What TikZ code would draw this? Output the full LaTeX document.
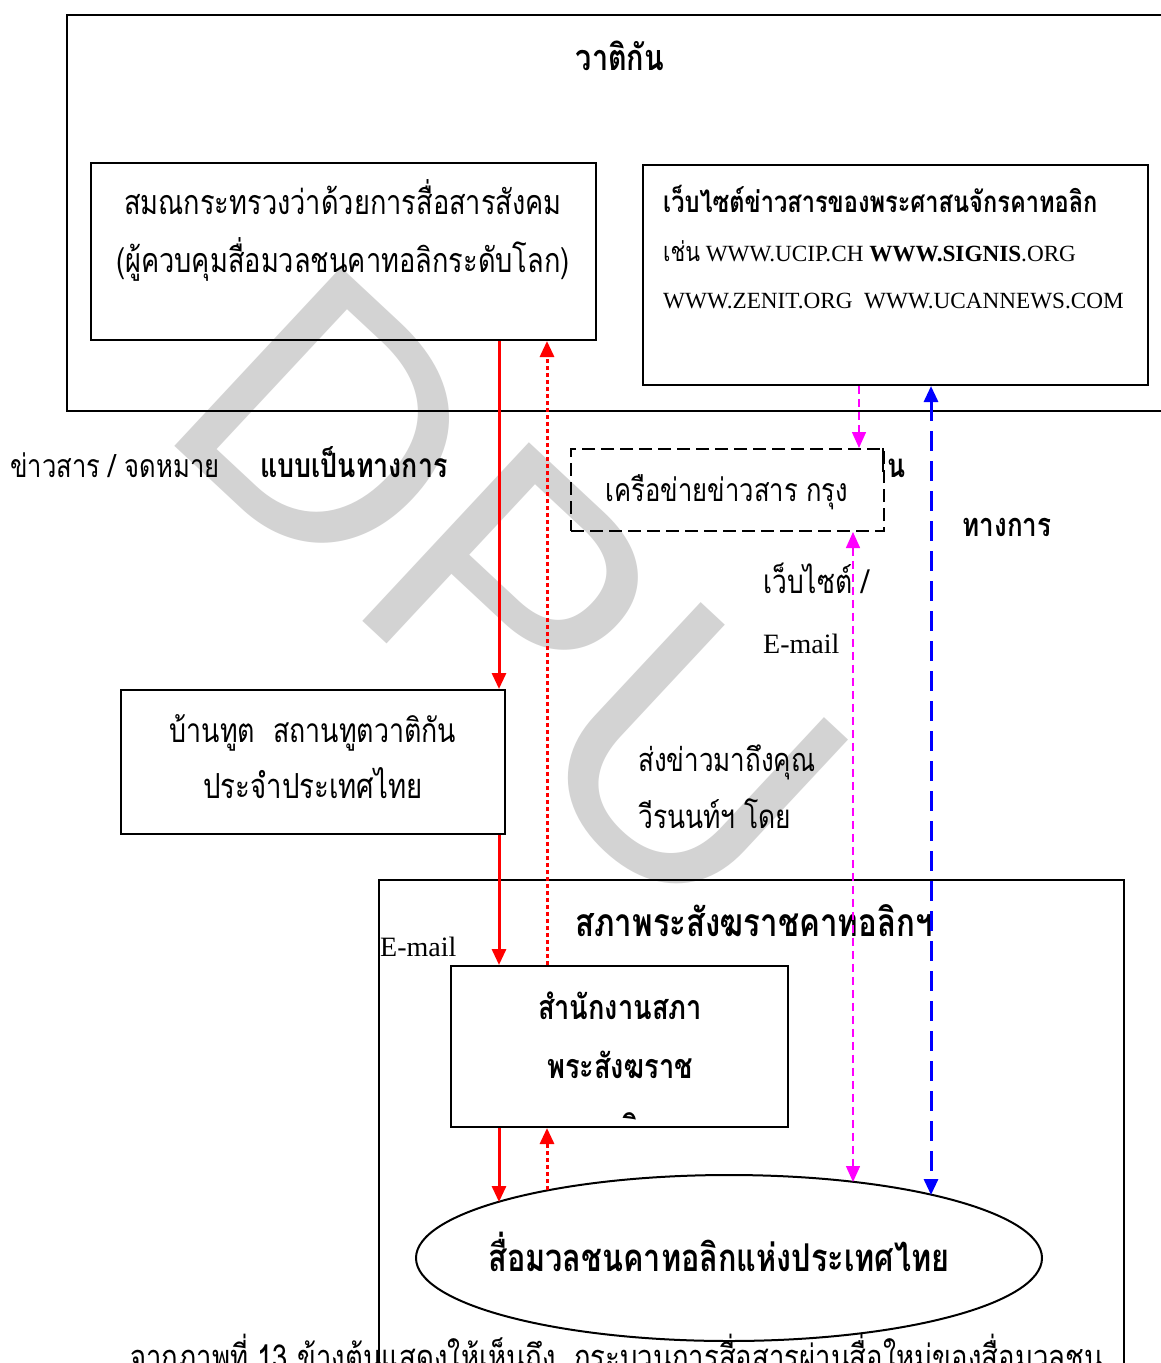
\documentclass[tikz,border=0pt]{standalone}
\usepackage{fontspec}
\setmainfont{Liberation Serif}
\newfontfamily\thai[Script=Thai,FakeStretch=0.8]{Loma}
\newfontfamily\wmfont{Liberation Sans}
\usetikzlibrary{arrows.meta,shapes.geometric}
\definecolor{wmgray}{RGB}{211,211,211}
\definecolor{myred}{RGB}{255,0,0}
\definecolor{mymag}{RGB}{255,0,255}
\definecolor{myblue}{RGB}{0,0,255}
\tikzset{
  box/.style={draw=black, line width=2pt, inner sep=0pt, rectangle},
  th/.style={font=\thai\fontsize{#1}{36}\selectfont, inner sep=0pt},
  th/.default=33,
  thb/.style={font=\thai\bfseries\fontsize{#1}{36}\selectfont, inner sep=0pt},
  thb/.default=33,
  lat/.style={font=\fontsize{23.2}{28}\selectfont, inner sep=0pt},
  latbig/.style={font=\fontsize{28}{32}\selectfont, inner sep=0pt},
  tip/.style={-{Triangle[width=14pt,length=16pt]}},
  redsolid/.style={draw=myred, line width=3pt, tip},
  reddot/.style={draw=myred, line width=3pt, dash pattern=on 4pt off 3pt, tip},
  magline/.style={draw=mymag, line width=1.5pt, dash pattern=on 8pt off 5pt},
  blueline/.style={draw=myblue, line width=3pt, dash pattern=on 20pt off 10pt},
}
\begin{document}
\begin{tikzpicture}[x=1pt,y=-1pt]
\useasboundingbox (0,0) rectangle (1161,1363);
\fill[white] (0,0) rectangle (1161,1363);
% watermark
\node[rotate=-43, text=wmgray, font=\wmfont\fontsize{355}{355}\selectfont, inner sep=0pt] (wm) at (510,594) {DPU};

% outer boxes
\draw[line width=2pt] (1175,15) -- (67,15) -- (67,411) -- (1175,411);
\node[thb=36, anchor=base] (tvat) at (620,70) {วาติกัน};
\draw[line width=2pt] (379,1400) -- (379,880) -- (1124,880) -- (1124,1400);
\node[thb=39, anchor=base] (tcbct) at (754,936) {สภาพระสังฆราชคาทอลิกฯ};

% box A
\node[box, minimum width=505pt, minimum height=177pt] (boxA) at (343.5,251.5) {};
\node[th=34, anchor=base] (a1) at (343,214) {สมณกระทรวงว่าด้วยการสื่อสารสังคม};
\node[th=34, anchor=base] (a2) at (343,272) {(ผู้ควบคุมสื่อมวลชนคาทอลิกระดับโลก)};

% box B
\node[box, minimum width=505pt, minimum height=220pt] (boxB) at (895.5,275) {};
\node[thb=29.5, anchor=base west] (b1) at (663,212) {เว็บไซต์ข่าวสารของพระศาสนจักรคาทอลิก};
\node[lat, anchor=base west] (b2) at (663,261) {{\thai\fontsize{27}{30}\selectfont เช่น} WWW.UCIP.CH \textbf{WWW.SIGNIS}.ORG};
\node[lat, anchor=base west] (b3) at (663,308) {WWW.ZENIT.ORG\ \ WWW.UCANNEWS.COM};

% labels left
\node[th=32, anchor=base west] (l1) at (10,477) {ข่าวสาร / จดหมาย};
\node[thb=33.5, anchor=base west] (l2) at (260,477) {แบบเป็นทางการ};

% dashed box
\node[draw=black, line width=2pt, dash pattern=on 13pt off 6pt, minimum width=313pt, minimum height=82pt, inner sep=0pt] (boxN) at (727.5,490) {};
\node[th=32, anchor=base] (n1) at (727,501) {เครือข่ายข่าวสาร กรุง};
\node[thb=33, anchor=base west] (nfrag) at (887,477) {น};
\coordinate (fragtop) at (883,448);
\coordinate (fragbot) at (883,472);
\draw[line width=2pt] (fragtop) -- (fragbot);

\node[thb=32.5, anchor=base] (tk) at (1007,536) {ทางการ};
\node[th=33, anchor=base west] (w1) at (763,593) {เว็บไซต์ /};
\node[latbig, anchor=base west] (w2) at (763,653) {E-mail};

% box C
\node[box, minimum width=384pt, minimum height=144pt] (boxC) at (313,762) {};
\node[th=33.5, anchor=base] (c1) at (313,742) {บ้านทูต\ \ สถานทูตวาติกัน};
\node[th=34.5, anchor=base] (c2) at (313,798) {ประจำประเทศไทย};

\node[th=32.5, anchor=base west] (s1) at (638,771) {ส่งข่าวมาถึงคุณ};
\node[th=33, anchor=base west] (s2) at (638,828) {วีรนนท์ฯ โดย};

\node[latbig, anchor=base west] (e2) at (380,956) {E-mail};

% box E
\node[box, minimum width=337pt, minimum height=161pt] (boxE) at (619.5,1046.5) {};
\node[thb=34, anchor=base] (e1) at (620,1019) {สำนักงานสภา};
\node[thb=34, anchor=base] (e3) at (620,1078) {พระสังฆราช};
\begin{scope}
\clip (600,1100) rectangle (660,1119);
\node[thb=34, anchor=base] (efrag) at (630,1140) {ลิ};
\end{scope}

% ellipse
\node[draw=black, line width=2pt, ellipse, minimum width=626pt, minimum height=166pt, inner sep=0pt] (ell) at (729,1258) {};
\node[thb=38.3, anchor=base] (ellt) at (719,1271) {สื่อมวลชนคาทอลิกแห่งประเทศไทย};

% caption
\node[th=34.4, anchor=base west] (cap) at (130,1369) {จากภาพที่ 13 ข้างต้นแสดงให้เห็นถึง\ \ กระบวนการสื่อสารผ่านสื่อใหม่ของสื่อมวลชน};

% connectors
\coordinate (xr) at (499,0);
\coordinate (xd) at (547,0);
\coordinate (xm1) at (859,0);
\coordinate (xm2) at (853,0);
\coordinate (xb) at (931,0);
\coordinate (ell1) at (499,1202);
\coordinate (ell2) at (547,1190);
\coordinate (ell3) at (853,1182);
\coordinate (ell4) at (931,1195);

\draw[redsolid] (boxA.south -| xr) -- (boxC.north -| xr);
\draw[redsolid] (boxC.south -| xr) -- (boxE.north -| xr);
\draw[redsolid] (boxE.south -| xr) -- (ell1);
\draw[reddot] (boxE.north -| xd) -- (boxA.south -| xd);
\draw[reddot] (ell2) -- (boxE.south -| xd);
\draw[magline, tip] (boxB.south -| xm1) -- (boxN.north -| xm1);
\draw[magline, {Triangle[width=14pt,length=16pt]}-{Triangle[width=14pt,length=16pt]}] (boxN.south -| xm2) -- (ell3);
\draw[blueline, {Triangle[width=14pt,length=16pt]}-{Triangle[width=14pt,length=16pt]}] (boxB.south -| xb) -- (ell4);
\end{tikzpicture}
\end{document}
